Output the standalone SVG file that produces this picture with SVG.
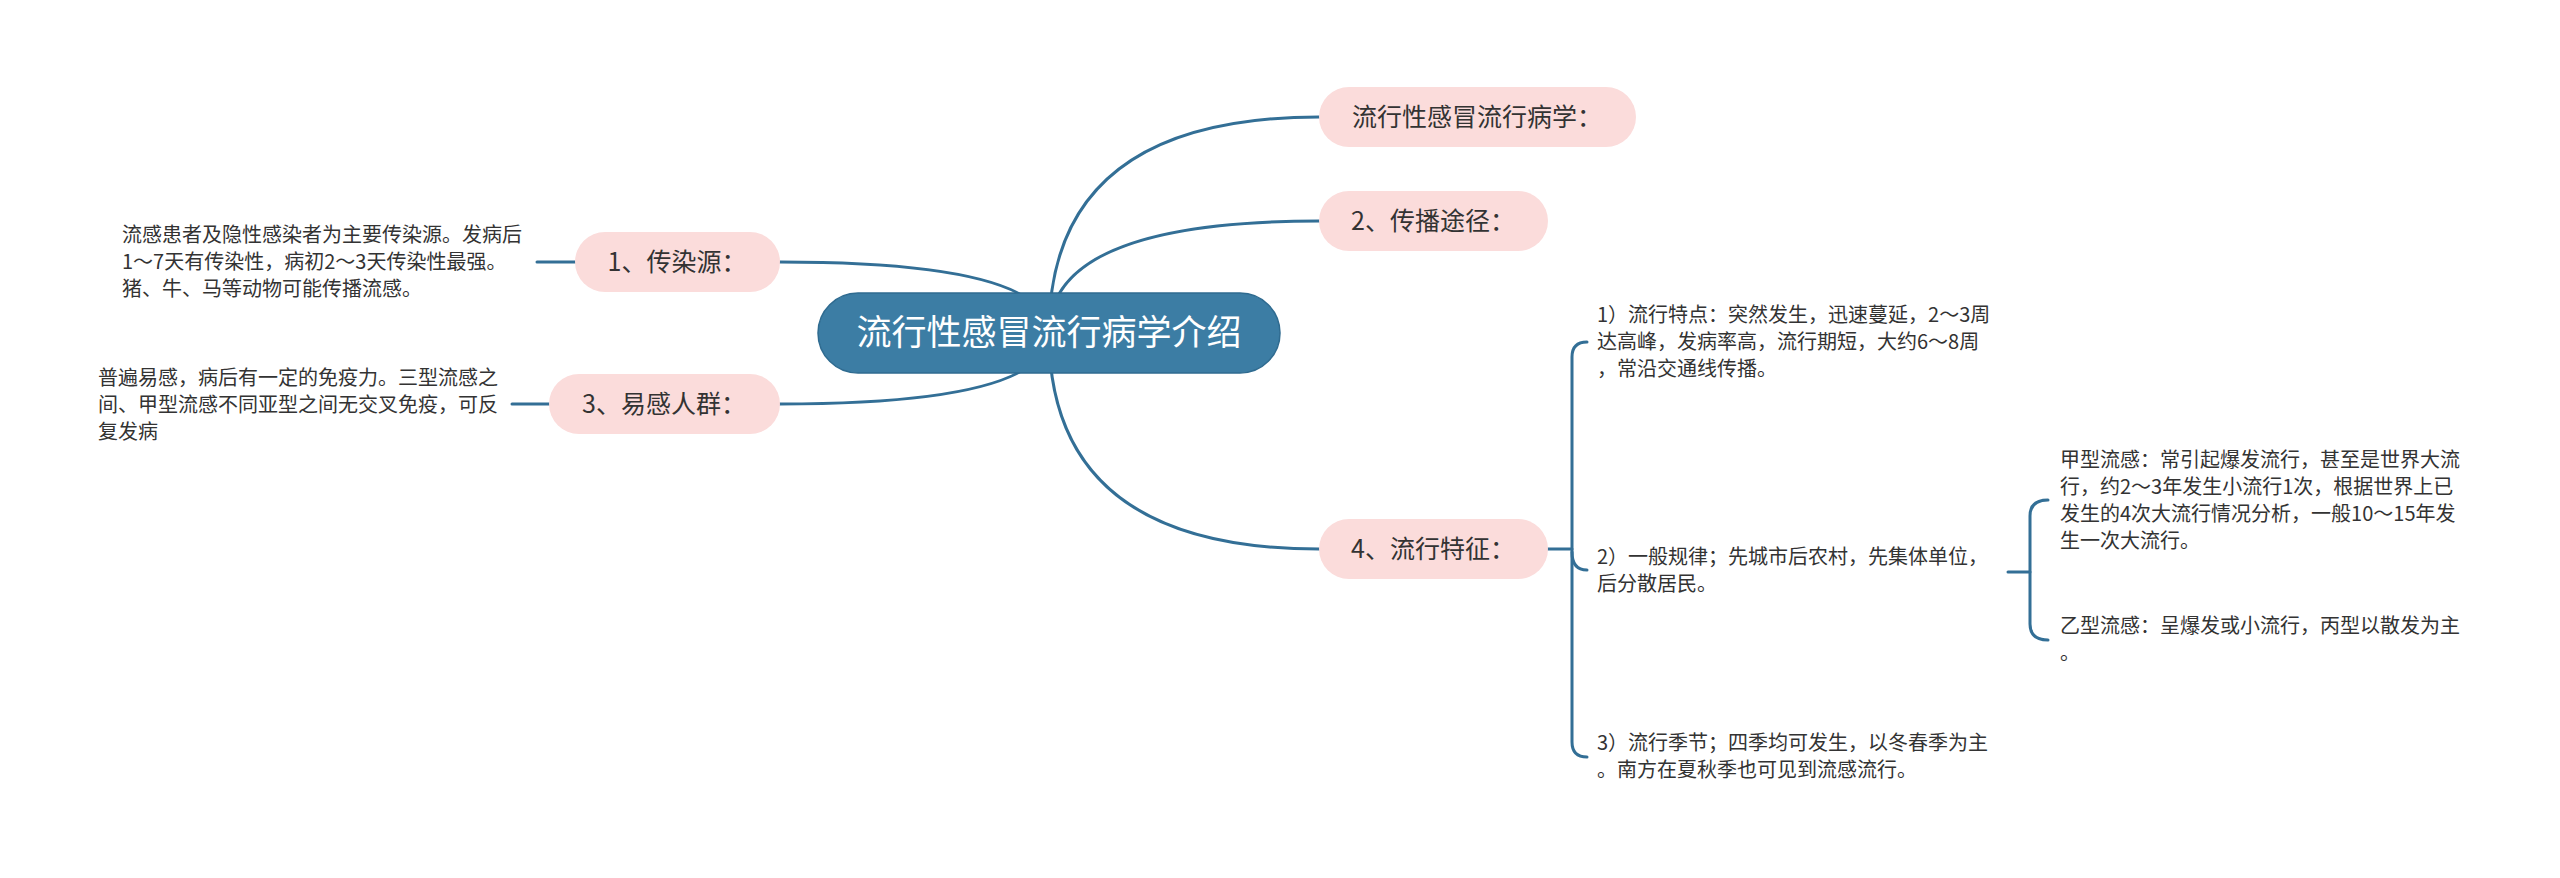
<svg xmlns="http://www.w3.org/2000/svg" width="2560" height="878" viewBox="0 0 2560 878">
<style>
.c{fill:none;stroke:#336f96;stroke-width:3;stroke-linecap:round}
.p{fill:#fbdcdb}
.t{font-family:"Noto Sans CJK SC","Noto Sans",sans-serif;fill:#333}
.n{font-size:25px;text-anchor:middle}
.s{font-size:20px}
.m{font-family:"Noto Sans CJK SC","Noto Sans",sans-serif;fill:#ffffff;font-size:35px;text-anchor:middle}
</style>
<rect width="2560" height="878" fill="#ffffff"/>
<g id="connectors">
<path class="c" d="M1049,333 Q1049,117 1319,117"/>
<path class="c" d="M1049,333 Q1049,221 1319,221"/>
<path class="c" d="M1049,333 Q1049,549 1319,549"/>
<path class="c" d="M1049,333 Q1049,262 780,262"/>
<path class="c" d="M1049,333 Q1049,404 780,404"/>
<path class="c" d="M575,262 H537"/>
<path class="c" d="M549,404 H512"/>
<path class="c" d="M1548,549 H1572"/>
<path class="c" d="M1587,342 Q1572,342 1572,357 V742 Q1572,757 1587,757"/>
<path class="c" d="M1572,552 Q1572,570 1587,570"/>
<path class="c" d="M2008,572 H2030"/>
<path class="c" d="M2048,500 Q2030,500 2030,516 V624 Q2030,640 2048,640"/>
</g>
<g id="root">
<rect x="818" y="293" width="462" height="80" rx="40" fill="#3c7da4" stroke="#2f6b90" stroke-width="1.5"/>
<text class="m" x="1049" y="345">流行性感冒流行病学介绍</text>
</g>
<g id="nodeA">
<rect class="p" x="1319" y="87" width="317" height="60" rx="30"/>
<text class="t n" x="1477" y="126">流行性感冒流行病学：</text>
</g>
<g id="nodeB">
<rect class="p" x="1319" y="191" width="229" height="60" rx="30"/>
<text class="t n" x="1433" y="230">2、传播途径：</text>
</g>
<g id="node4">
<rect class="p" x="1319" y="519" width="229" height="60" rx="30"/>
<text class="t n" x="1433" y="558">4、流行特征：</text>
</g>
<g id="node1">
<rect class="p" x="575" y="232" width="205" height="60" rx="30"/>
<text class="t n" x="677" y="271">1、传染源：</text>
</g>
<g id="node3">
<rect class="p" x="549" y="374" width="231" height="60" rx="30"/>
<text class="t n" x="664" y="413">3、易感人群：</text>
</g>
<g id="text1">
<text class="t s" x="122" y="242"><tspan x="122">流感患者及隐性感染者为主要传染源。发病后</tspan><tspan x="122" dy="27">1～7天有传染性，病初2～3天传染性最强。</tspan><tspan x="122" dy="27">猪、牛、马等动物可能传播流感。</tspan></text>
</g>
<g id="text3">
<text class="t s" x="98" y="385"><tspan x="98">普遍易感，病后有一定的免疫力。三型流感之</tspan><tspan x="98" dy="27">间、甲型流感不同亚型之间无交叉免疫，可反</tspan><tspan x="98" dy="27">复发病</tspan></text>
</g>
<g id="feature1">
<text class="t s" x="1597" y="322"><tspan x="1597">1）流行特点：突然发生，迅速蔓延，2～3周</tspan><tspan x="1597" dy="27">达高峰，发病率高，流行期短，大约6～8周</tspan><tspan x="1597" dy="27">，常沿交通线传播。</tspan></text>
</g>
<g id="feature2">
<text class="t s" x="1597" y="564"><tspan x="1597">2）一般规律；先城市后农村，先集体单位，</tspan><tspan x="1597" dy="27">后分散居民。</tspan></text>
</g>
<g id="feature3">
<text class="t s" x="1597" y="750"><tspan x="1597">3）流行季节；四季均可发生，以冬春季为主</tspan><tspan x="1597" dy="27">。南方在夏秋季也可见到流感流行。</tspan></text>
</g>
<g id="typeA">
<text class="t s" x="2060" y="467"><tspan x="2060">甲型流感：常引起爆发流行，甚至是世界大流</tspan><tspan x="2060" dy="27">行，约2～3年发生小流行1次，根据世界上已</tspan><tspan x="2060" dy="27">发生的4次大流行情况分析，一般10～15年发</tspan><tspan x="2060" dy="27">生一次大流行。</tspan></text>
</g>
<g id="typeB">
<text class="t s" x="2060" y="633"><tspan x="2060">乙型流感：呈爆发或小流行，丙型以散发为主</tspan><tspan x="2060" dy="27">。</tspan></text>
</g>
</svg>
